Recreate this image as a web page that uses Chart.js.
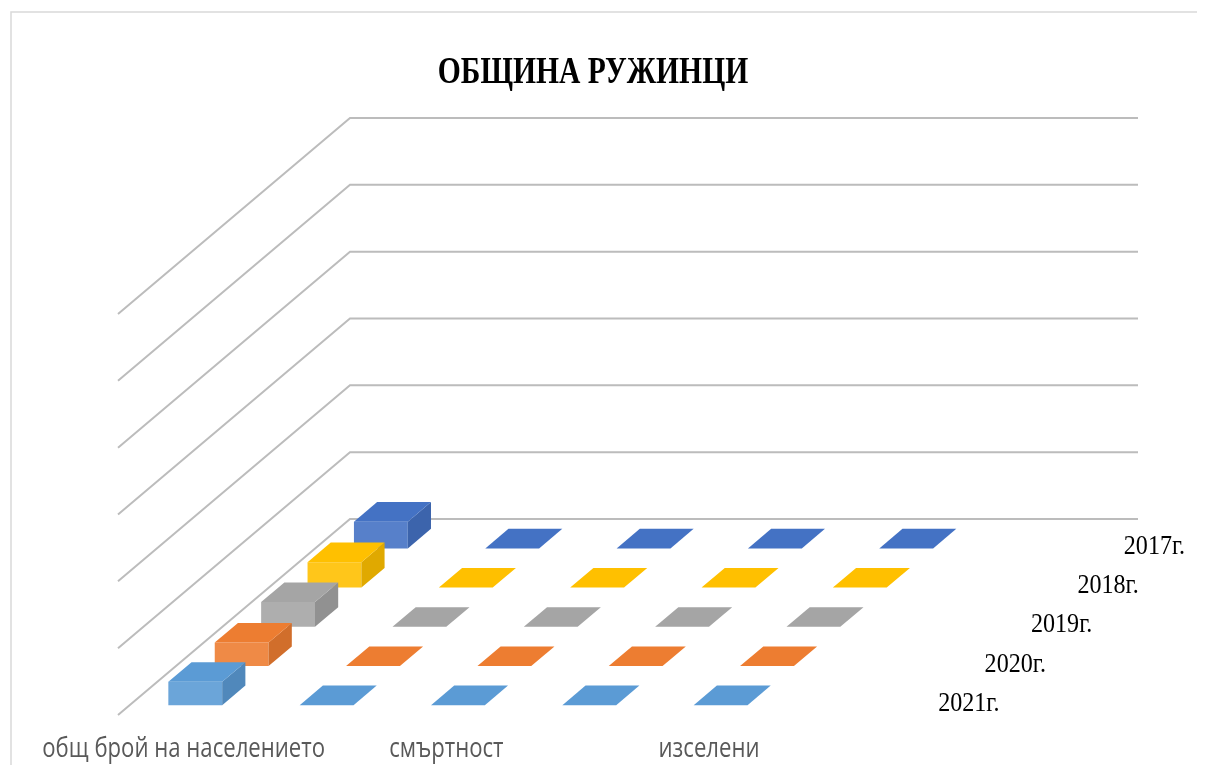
<!DOCTYPE html>
<html>
<head>
<meta charset="utf-8">
<title>ОБЩИНА РУЖИНЦИ</title>
<script src="https://cdn.jsdelivr.net/npm/chart.js@4/dist/chart.umd.min.js"></script>
<style>
  body { margin: 0; background: #fff; }
  #wrap { position: relative; width: 1206px; height: 765px; }
</style>
</head>
<body>
<div id="wrap"><canvas id="chart"></canvas></div>
<script>
'use strict';

// categories (only every other label is readable in the picture)
var categories = ['общ брой на населението', '', 'смъртност', '', 'изселени', ''];
var years = ['2017г.', '2018г.', '2019г.', '2020г.', '2021г.'];

// values per year, one array per series (last category is empty)
var v2017 = [4000, 0, 0, 0, 0, null];
var v2018 = [3800, 0, 0, 0, 0, null];
var v2019 = [3700, 0, 0, 0, 0, null];
var v2020 = [3500, 0, 0, 0, 0, null];
var v2021 = [3500, 0, 0, 0, 0, null];

var yMax = 60000;
var yStep = 10000;

var seriesColors = ['#4472C4', '#FFC000', '#A5A5A5', '#ED7D31', '#5B9BD5'];

// oblique depth of the 3d box (back wall offset)
var DEPTH_X = 232;
var DEPTH_Y = 196;

function shade(hex, f) {
    var n = parseInt(hex.slice(1), 16);
    var r = n >> 16, g = (n >> 8) & 255, b = n & 255;
    function c(v) { return Math.round(f >= 0 ? v + (255 - v) * f : v * (1 + f)); }
    return 'rgb(' + c(r) + ',' + c(g) + ',' + c(b) + ')';
}

function poly(ctx, pts, fill) {
    ctx.beginPath();
    ctx.moveTo(pts[0][0], pts[0][1]);
    for (var i = 1; i < pts.length; i++) ctx.lineTo(pts[i][0], pts[i][1]);
    ctx.closePath();
    ctx.fillStyle = fill;
    ctx.fill();
}

var box3d = {
    id: 'box3d',
    beforeDatasetsDraw: function (chart) {
        var ctx = chart.ctx;
        var area = chart.chartArea;
        var yScale = chart.scales.y;

        // chart frame
        ctx.save();
        ctx.strokeStyle = '#d9d9d9';
        ctx.lineWidth = 1.5;
        ctx.beginPath();
        ctx.moveTo(11, 766);
        ctx.lineTo(11, 12);
        ctx.lineTo(1197, 12);
        ctx.stroke();

        // walls: back gridlines + side diagonals
        ctx.strokeStyle = '#bcbcbc';
        ctx.lineWidth = 2;
        yScale.ticks.forEach(function (t) {
            var y = yScale.getPixelForValue(t.value);
            ctx.beginPath();
            ctx.moveTo(area.left, y);
            ctx.lineTo(area.left + DEPTH_X, y - DEPTH_Y);
            ctx.lineTo(area.right + DEPTH_X, y - DEPTH_Y);
            ctx.stroke();
        });

        // boxes, back row first
        var n = chart.data.datasets.length;
        for (var s = 0; s < n; s++) {
            var meta = chart.getDatasetMeta(s);
            var base = chart.data.datasets[s].backgroundColor;
            var k = n - 1 - s;
            var d0 = (k + 0.25) / n, d1 = (k + 0.75) / n;
            var ox0 = d0 * DEPTH_X, oy0 = -d0 * DEPTH_Y;
            var ox1 = d1 * DEPTH_X, oy1 = -d1 * DEPTH_Y;
            meta.data.forEach(function (bar, i) {
                var v = chart.data.datasets[s].data[i];
                if (v === null || v === undefined) return;
                var p = bar.getProps(['x', 'y', 'base', 'width'], true);
                var x0 = p.x - p.width / 2, x1 = p.x + p.width / 2;
                var top = p.y, bot = p.base;
                if (bot - top > 0.5) {
                    poly(ctx, [[x0 + ox0, top + oy0], [x1 + ox0, top + oy0], [x1 + ox0, bot + oy0], [x0 + ox0, bot + oy0]], shade(base, 0.1));
                    poly(ctx, [[x1 + ox0, top + oy0], [x1 + ox1, top + oy1], [x1 + ox1, bot + oy1], [x1 + ox0, bot + oy0]], shade(base, -0.12));
                }
                poly(ctx, [[x0 + ox0, top + oy0], [x1 + ox0, top + oy0], [x1 + ox1, top + oy1], [x0 + ox1, top + oy1]], base);
            });
        }

        // series (depth) labels on the right
        ctx.fillStyle = '#000';
        ctx.font = '28px "Liberation Serif", serif';
        ctx.textBaseline = 'middle';
        ctx.textAlign = 'left';
        for (var j = 0; j < n; j++) {
            var kk = n - 1 - j;
            var d = (kk + 0.5) / n;
            ctx.save();
            ctx.translate(area.right + d * DEPTH_X + 9, area.bottom - d * DEPTH_Y + 8);
            ctx.scale(0.86, 1);
            ctx.fillText(chart.data.datasets[j].label, 0, 0);
            ctx.restore();
        }

        // category labels
        var xScale = chart.scales.x;
        ctx.fillStyle = '#595959';
        ctx.font = '27px "Open Sans", sans-serif';
        ctx.textAlign = 'center';
        ctx.textBaseline = 'alphabetic';
        chart.data.labels.forEach(function (lab, i) {
            if (!lab) return;
            ctx.save();
            ctx.translate(xScale.getPixelForValue(i), area.bottom + 42);
            ctx.scale(0.82, 1);
            ctx.fillText(lab, 0, 0);
            ctx.restore();
        });

        // title
        ctx.fillStyle = '#000';
        ctx.font = 'bold 37px "Liberation Serif", serif';
        ctx.textAlign = 'center';
        ctx.save();
        ctx.translate(593, 83);
        ctx.scale(0.8, 1);
        ctx.fillText('ОБЩИНА РУЖИНЦИ', 0, 0);
        ctx.restore();

        ctx.restore();
        return false; // the flat default bars are replaced by the boxes
    }
};

var datasets = [v2017, v2018, v2019, v2020, v2021].map(function (vals, i) {
    return { label: years[i], data: vals, backgroundColor: seriesColors[i] };
});

new Chart(document.getElementById('chart'), {
    type: 'bar',
    data: { labels: categories, datasets: datasets },
    options: {
        responsive: true,
        maintainAspectRatio: false,
        animation: false,
        layout: { padding: { left: 118, right: 300, top: 314, bottom: 50 } },
        datasets: { bar: { grouped: false, barPercentage: 0.41, categoryPercentage: 1 } },
        scales: {
            x: { display: false },
            y: { display: false, min: 0, max: yMax, ticks: { stepSize: yStep } }
        },
        plugins: {
            legend: { display: false },
            tooltip: { enabled: false }
        }
    },
    plugins: [box3d]
});
</script>
</body>
</html>
